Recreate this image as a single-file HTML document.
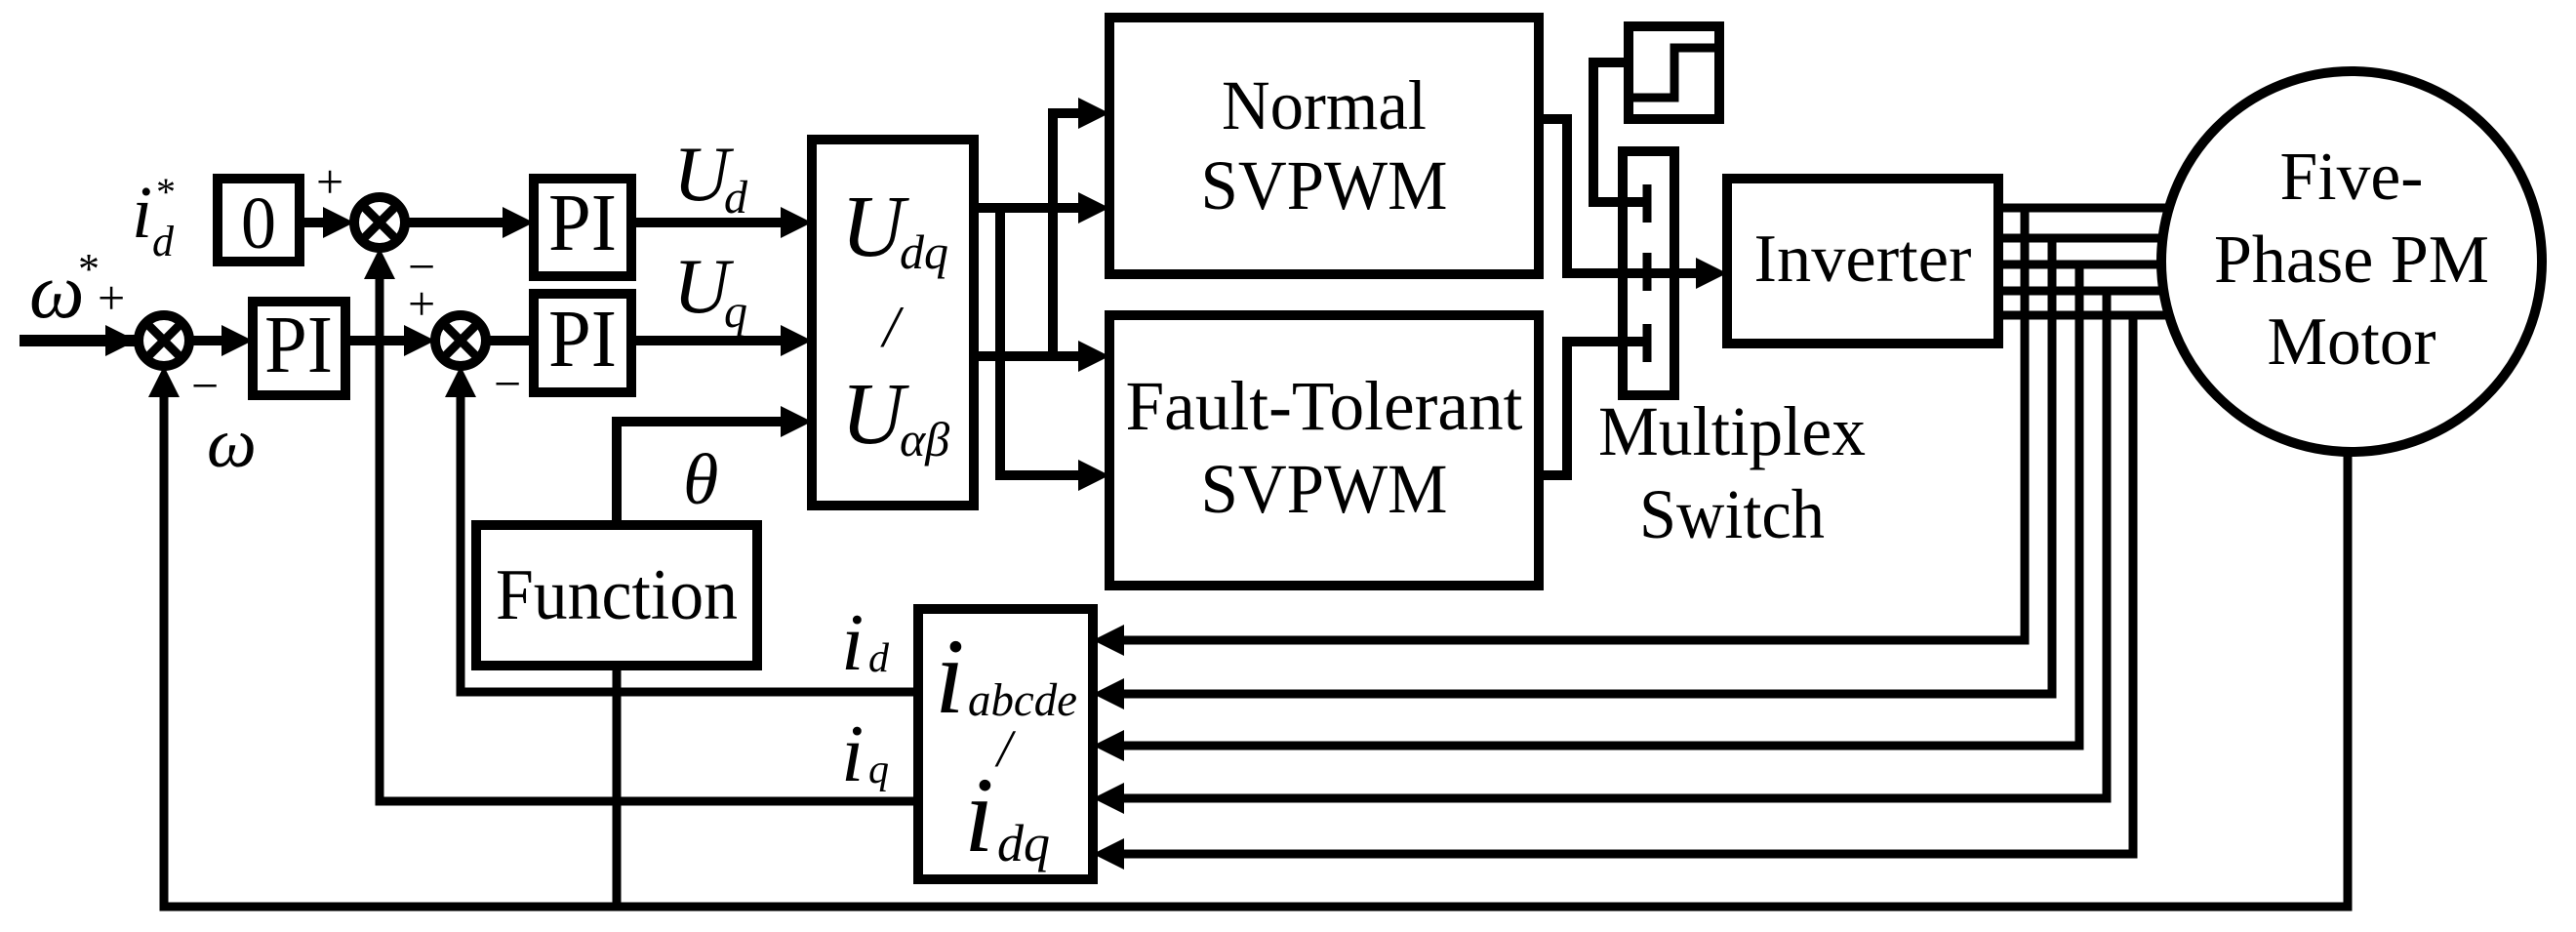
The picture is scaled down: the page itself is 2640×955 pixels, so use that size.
<!DOCTYPE html>
<html><head><meta charset="utf-8"><style>
html,body{margin:0;padding:0;background:#fff}
svg{display:block}
text{font-family:"Liberation Serif",serif;fill:#000}
.i{font-style:italic}
</style></head><body>
<svg width="2640" height="955" viewBox="0 0 2640 955" xmlns="http://www.w3.org/2000/svg">
<g fill="none" stroke="#000" stroke-width="10" stroke-linejoin="miter">
<line x1="20" y1="349" x2="140" y2="349" stroke-width="12"/>
<circle cx="168" cy="349" r="26"/>
<circle cx="389" cy="228" r="26"/>
<circle cx="472" cy="349" r="26"/>
<path d="M150 331L186 367M186 331L150 367M371 210L407 246M407 210L371 246M454 331L490 367M490 331L454 367" stroke-width="9"/>
<rect x="259" y="309" width="95" height="96"/>
<rect x="223" y="183" width="84" height="85"/>
<rect x="547" y="183" width="100" height="100"/>
<rect x="547" y="301" width="100" height="101"/>
<rect x="832" y="143" width="166" height="375"/>
<rect x="488" y="538" width="288" height="144"/>
<rect x="1137" y="18" width="440" height="263"/>
<rect x="1137" y="323" width="440" height="277"/>
<rect x="1663" y="155" width="53" height="250"/>
<rect x="1669" y="27" width="93" height="95"/>
<rect x="1770" y="183" width="278" height="169"/>
<rect x="941" y="624" width="179" height="277"/>
<path d="M1674 100H1716V49H1758" stroke-width="9"/>
<path d="M196 349H240M354 349H430M307 228H345M415 228H520M498 349H547M647 228H805M647 349H805M632 538V432H805"/>
<path d="M998 213H1110M1025 213V487H1110M998 365H1110M1079 365V116H1110"/>
<path d="M1577 122H1606V280H1745M1577 487H1606V350H1688M1669 64H1633V207H1688"/>
<path d="M1688 189V228M1688 259V298M1688 332V371" stroke-width="9"/>
<g stroke-width="9">
<path d="M2048 213H2230M2048 244H2230M2048 271H2230M2048 298H2230M2048 323H2230"/>
<path d="M2075 213V656H1145M2103 244V711H1145M2131 271V764H1145M2159 298V818H1145M2186 323V875H1145"/>
<path d="M941 709H472V400M941 821H389V280M2406 463V929H168V400M632 682V929"/>
</g>
<circle cx="2410" cy="268" r="195" fill="#fff"/>
</g>
<g fill="#000">
<polygon points="108,333 140,349 108,365"/>
<polygon points="227,333 259,349 227,365"/>
<polygon points="414,333 446,349 414,365"/>
<polygon points="331,212 363,228 331,244"/>
<polygon points="515,212 547,228 515,244"/>
<polygon points="800,212 832,228 800,244"/>
<polygon points="800,333 832,349 800,365"/>
<polygon points="800,416 832,432 800,448"/>
<polygon points="1105,100 1137,116 1105,132"/>
<polygon points="1105,197 1137,213 1105,229"/>
<polygon points="1105,349 1137,365 1105,381"/>
<polygon points="1105,471 1137,487 1105,503"/>
<polygon points="1738,264 1770,280 1738,296"/>
<polygon points="152,407 168,375 184,407"/>
<polygon points="373,286 389,254 405,286"/>
<polygon points="456,407 472,375 488,407"/>
<polygon points="1152,640 1120,656 1152,672"/>
<polygon points="1152,695 1120,711 1152,727"/>
<polygon points="1152,748 1120,764 1152,780"/>
<polygon points="1152,802 1120,818 1152,834"/>
<polygon points="1152,859 1120,875 1152,891"/>
</g>
<text x="30" y="325" font-size="80" class="i">ω</text>
<text x="80" y="290" font-size="44">*</text>
<text x="100" y="322" font-size="50">+</text>
<text x="196" y="412" font-size="50">−</text>
<text x="212" y="478" font-size="72" class="i">ω</text>
<text x="135" y="243" font-size="76" class="i">i</text>
<text x="156" y="262" font-size="44" class="i">d</text>
<text x="160" y="210" font-size="40">*</text>
<text x="324" y="203" font-size="50">+</text>
<text x="418" y="290" font-size="50">−</text>
<text x="418" y="328" font-size="50">+</text>
<text x="506" y="410" font-size="50">−</text>
<text x="306" y="381" font-size="84" text-anchor="middle" textLength="70" lengthAdjust="spacingAndGlyphs">PI</text>
<text x="265" y="254" font-size="76" text-anchor="middle" textLength="36" lengthAdjust="spacingAndGlyphs">0</text>
<text x="597" y="256" font-size="84" text-anchor="middle" textLength="70" lengthAdjust="spacingAndGlyphs">PI</text>
<text x="597" y="375" font-size="84" text-anchor="middle" textLength="70" lengthAdjust="spacingAndGlyphs">PI</text>
<text x="690" y="205" font-size="80" class="i">U</text>
<text x="742" y="218" font-size="48" class="i">d</text>
<text x="690" y="320" font-size="80" class="i">U</text>
<text x="742" y="335" font-size="48" class="i">q</text>
<text x="862" y="262" font-size="90" class="i">U</text>
<text x="922" y="275" font-size="50" class="i">dq</text>
<text x="905" y="355" font-size="60" class="i">/</text>
<text x="862" y="454" font-size="90" class="i">U</text>
<text x="922" y="467" font-size="50" class="i">αβ</text>
<text x="700" y="516" font-size="74" class="i">θ</text>
<text x="632" y="634" font-size="74" text-anchor="middle" textLength="248" lengthAdjust="spacingAndGlyphs">Function</text>
<text x="1357" y="132" font-size="72" text-anchor="middle" textLength="210" lengthAdjust="spacingAndGlyphs">Normal</text>
<text x="1357" y="214" font-size="72" text-anchor="middle" textLength="253" lengthAdjust="spacingAndGlyphs">SVPWM</text>
<text x="1357" y="440" font-size="72" text-anchor="middle" textLength="407" lengthAdjust="spacingAndGlyphs">Fault-Tolerant</text>
<text x="1357" y="525" font-size="72" text-anchor="middle" textLength="253" lengthAdjust="spacingAndGlyphs">SVPWM</text>
<text x="1775" y="466" font-size="72" text-anchor="middle" textLength="274" lengthAdjust="spacingAndGlyphs">Multiplex</text>
<text x="1775" y="551" font-size="72" text-anchor="middle" textLength="190" lengthAdjust="spacingAndGlyphs">Switch</text>
<text x="1909" y="288" font-size="70" text-anchor="middle" textLength="223" lengthAdjust="spacingAndGlyphs">Inverter</text>
<text x="2410" y="204" font-size="70" text-anchor="middle" textLength="147" lengthAdjust="spacingAndGlyphs">Five-</text>
<text x="2410" y="289" font-size="70" text-anchor="middle" textLength="282" lengthAdjust="spacingAndGlyphs">Phase PM</text>
<text x="2410" y="373" font-size="70" text-anchor="middle" textLength="173" lengthAdjust="spacingAndGlyphs">Motor</text>
<text x="862" y="686" font-size="84" class="i">i</text>
<text x="890" y="688" font-size="42" class="i">d</text>
<text x="862" y="800" font-size="84" class="i">i</text>
<text x="890" y="802" font-size="42" class="i">q</text>
<text x="958" y="730" font-size="110" class="i">i</text>
<text x="992" y="733" font-size="48" class="i" textLength="112" lengthAdjust="spacingAndGlyphs">abcde</text>
<text x="1022" y="785" font-size="54" class="i">/</text>
<text x="988" y="872" font-size="110" class="i">i</text>
<text x="1022" y="882" font-size="54" class="i">dq</text>
</svg>
</body></html>
